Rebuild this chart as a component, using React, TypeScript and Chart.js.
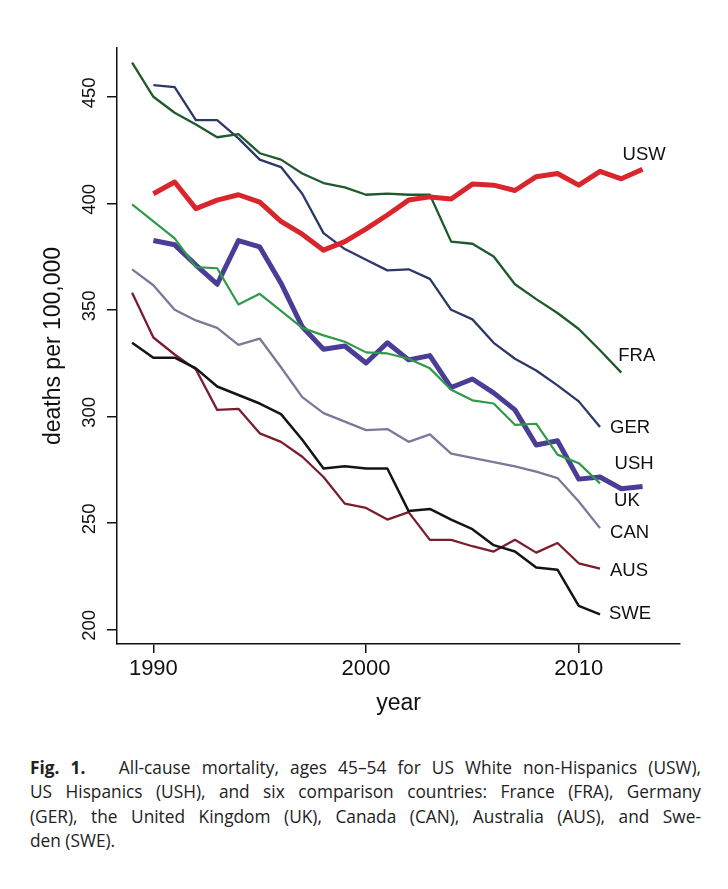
import React, { useEffect, useRef } from 'react';
import { Chart, registerables } from 'chart.js';
Chart.register(...registerables);

const years = [1989, 1990, 1991, 1992, 1993, 1994, 1995, 1996, 1997, 1998, 1999, 2000, 2001, 2002, 2003, 2004, 2005, 2006, 2007, 2008, 2009, 2010, 2011, 2012, 2013];
const xTicks = [1990, 2000, 2010];
const yTicks = [200, 250, 300, 350, 400, 450];

const USW = [null, 404.5, 410, 397.5, 401.5, 404, 400.5, 391.5, 385.5, 378, 382, 388, 394.5, 401.5, 403, 402, 409, 408.5, 406, 412.5, 414, 408.5, 415, 411.5, 416];
const USH = [null, 382.5, 380.5, 371, 362, 382.5, 379.5, 362.5, 342, 331.5, 333, 325, 334.5, 326.5, 328.5, 313.5, 317.5, 311, 303, 286.5, 288.5, 270.5, 271.5, 266, 267];
const FRA = [466, 450, 442.5, 437, 431, 432.5, 423.5, 420.5, 414, 409.5, 407.5, 404, 404.5, 404, 404, 382, 381, 375, 362, 355, 348.5, 341, 331, 320.5, null];
const GER = [null, 455.5, 454.5, 439, 439, 430.5, 420.5, 417, 404.5, 386, 378.5, 373.5, 368.5, 369, 364.5, 350, 345.5, 334.5, 327, 321.5, 314.5, 307, 295, null, null];
const UK = [399.5, 391.5, 383.5, 370, 369.5, 352.5, 357.5, 349.5, 341.5, 338, 335, 330, 329.5, 327, 322.5, 312.5, 307.5, 306, 296, 296.5, 282, 278, 268.5, null, null];
const CAN = [369, 361.5, 350, 345, 341.5, 333.5, 336.5, 323, 309, 301.5, 297.5, 293.5, 294, 288, 291.5, 282.5, 280.5, 278.5, 276.5, 274, 271, 260, 247.5, null, null];
const AUS = [358, 337, 329, 322, 303, 303.5, 292, 288, 281, 271.5, 259, 257, 251.5, 255, 242, 242, 239, 236.5, 242, 236, 240.5, 231, 228.5, null, null];
const SWE = [334.5, 327.5, 327.5, 322.5, 314, 310, 306, 301, 289, 275.5, 276.5, 275.5, 275.5, 255.5, 256.5, 251.5, 247, 239.5, 236.5, 229, 228, 211, 207, null, null];

const FONT = '"Liberation Sans", Arial, Helvetica, sans-serif';
const INK = '#111111';

// pixel offsets of the end labels from each series' last point
const labelOffsets: Record<string, [number, number]> = {
  USW: [-20, -14],
  FRA: [-3, -16.5],
  GER: [10, 1],
  USH: [-28, -23],
  UK: [14, 18],
  CAN: [10, 5],
  AUS: [10, 2],
  SWE: [9, 0],
};

const toPoints = (vals: (number | null)[]) => years.map((yr, i) => ({ x: yr, y: vals[i] }));

const textPlugin = {
  id: 'textPlugin',
  afterDraw(chart: any) {
    const ctx = chart.ctx as CanvasRenderingContext2D;
    const ys = chart.scales.y;
    ctx.save();
    ctx.fillStyle = INK;
    ctx.font = `18.5px ${FONT}`;
    ctx.textAlign = 'center';
    ctx.textBaseline = 'alphabetic';
    ys.ticks.forEach((t: any) => {
      const py = ys.getPixelForValue(t.value) - 4;
      ctx.save();
      ctx.translate(95, py);
      ctx.rotate(-Math.PI / 2);
      ctx.fillText(String(t.value), 0, 0);
      ctx.restore();
    });
    ctx.restore();
    ctx.save();
    ctx.fillStyle = INK;
    ctx.font = `18.5px ${FONT}`;
    ctx.textAlign = 'left';
    ctx.textBaseline = 'middle';
    chart.data.datasets.forEach((ds: any, di: number) => {
      const meta = chart.getDatasetMeta(di);
      let last: any = null;
      ds.data.forEach((p: any, i: number) => {
        if (p.y !== null) last = meta.data[i];
      });
      if (!last) return;
      const off = labelOffsets[ds.label] || [8, 0];
      ctx.fillText(ds.label, last.x + off[0], last.y + off[1]);
    });
    ctx.restore();
  },
};

export default function App() {
  const ref = useRef<HTMLCanvasElement>(null);
  useEffect(() => {
    const canvas = ref.current!;
    const chart = new Chart(canvas, {
      type: 'line',
      data: {
        datasets: [
          { label: 'SWE', data: toPoints(SWE), borderColor: '#141414', borderWidth: 2.5 },
          { label: 'UK', data: toPoints(UK), borderColor: '#2f9a48', borderWidth: 2.2 },
          { label: 'USW', data: toPoints(USW), borderColor: '#d8262c', borderWidth: 5 },
          { label: 'FRA', data: toPoints(FRA), borderColor: '#1f5a2c', borderWidth: 2.3 },
          { label: 'GER', data: toPoints(GER), borderColor: '#2c3868', borderWidth: 2.3 },
          { label: 'CAN', data: toPoints(CAN), borderColor: '#7c7898', borderWidth: 2.3 },
          { label: 'AUS', data: toPoints(AUS), borderColor: '#7a1e2e', borderWidth: 2.3 },
          { label: 'USH', data: toPoints(USH), borderColor: '#4a3d96', borderWidth: 5 },
        ],
      },
      options: {
        responsive: false,
        animation: false,
        devicePixelRatio: 1,
        layout: { padding: { left: 0, right: 48, top: 48, bottom: 0 } },
        plugins: { legend: { display: false }, tooltip: { enabled: false } },
        elements: {
          point: { radius: 0, hoverRadius: 0 },
          line: { tension: 0, borderJoinStyle: 'round', borderCapStyle: 'butt', fill: false },
        },
        scales: {
          x: {
            type: 'linear',
            min: 1988.29,
            max: 2014.76,
            afterBuildTicks: (s: any) => {
              s.ticks = xTicks.map((v) => ({ value: v }));
            },
            afterFit: (s: any) => {
              s.height = 96;
            },
            grid: { drawOnChartArea: false, drawTicks: true, tickLength: 9, color: INK, lineWidth: 1.5 },
            border: { display: true, color: INK, width: 1.5 },
            ticks: {
              autoSkip: false,
              maxRotation: 0,
              padding: 3,
              color: INK,
              font: { family: FONT, size: 22 },
              callback: (v: any) => String(v),
            },
            title: {
              display: true,
              text: 'year',
              color: INK,
              font: { family: FONT, size: 23 },
              padding: { top: 0, bottom: 23 },
            },
          },
          y: {
            type: 'linear',
            min: 193.1,
            max: 472.9,
            afterBuildTicks: (s: any) => {
              s.ticks = yTicks.map((v) => ({ value: v }));
            },
            afterFit: (s: any) => {
              s.width = 117;
            },
            grid: { drawOnChartArea: false, drawTicks: true, tickLength: 10, color: INK, lineWidth: 1.5 },
            border: { display: true, color: INK, width: 1.5 },
            ticks: { display: false },
            title: {
              display: true,
              text: 'deaths per 100,000',
              color: INK,
              font: { family: FONT, size: 23 },
              padding: { top: 40, bottom: 0 },
            },
          },
        },
      } as any,
      plugins: [textPlugin],
    });
    return () => chart.destroy();
  }, []);

  const capStyle: React.CSSProperties = { textAlign: 'justify', textAlignLast: 'justify' as any };
  return (
    <div style={{ position: 'absolute', left: 0, top: 0, width: 728, height: 889, background: '#fff' }}>
      <canvas ref={ref} width={728} height={740} style={{ position: 'absolute', left: 0, top: 0 }} />
      <div
        style={{
          position: 'absolute',
          left: 30,
          top: 756,
          width: 671,
          fontFamily: '"Open Sans", "Noto Sans", sans-serif',
          fontSize: 17.3,
          lineHeight: '24.4px',
          color: '#222',
        }}
      >
        <div style={capStyle}>
          <b>Fig. 1.</b>&nbsp;&nbsp; All-cause mortality, ages 45–54 for US White non-Hispanics (USW),
        </div>
        <div style={capStyle}>US Hispanics (USH), and six comparison countries: France (FRA), Germany</div>
        <div style={capStyle}>(GER), the United Kingdom (UK), Canada (CAN), Australia (AUS), and Swe-</div>
        <div>den (SWE).</div>
      </div>
    </div>
  );
}
